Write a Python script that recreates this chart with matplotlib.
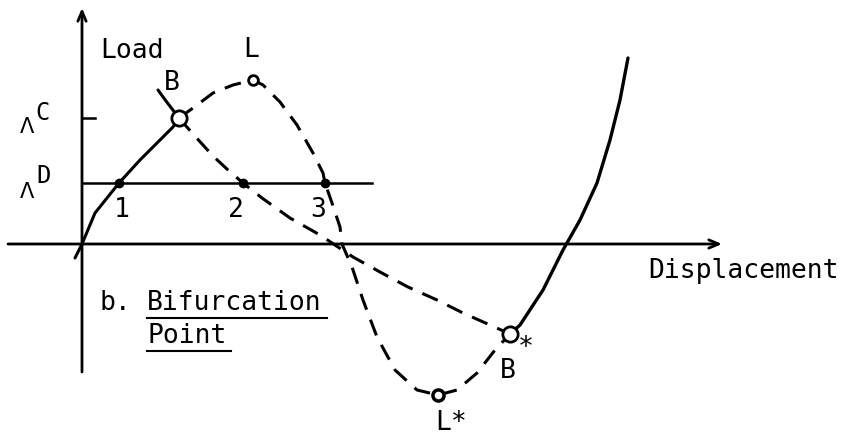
"""
Load-displacement sketch: bifurcation point B with limit points L, L*.
"""

import matplotlib
matplotlib.use("Agg")
import matplotlib.pyplot as plt

# primary (stable) branch from origin up to bifurcation point B
primary_u = [-0.07, 0.0, 0.13, 0.37, 0.58, 0.78, 0.91, 0.97]
primary_load = [-0.14, 0.0, 0.31, 0.61, 0.84, 1.04, 1.17, 1.26]

# short solid stub of the secondary branch above B
stub_u = [0.76, 0.84, 0.97]
stub_load = [1.54, 1.43, 1.26]

# unstable primary path B -> L -> L* -> B* (dashed)
main_u = [0.97, 1.11, 1.31, 1.51, 1.71, 1.81, 1.98, 2.15, 2.31, 2.41, 2.43,
          2.50, 2.58, 2.60, 2.70, 2.81, 2.95, 3.13, 3.35, 3.56, 3.75, 3.95,
          4.13, 4.28]
main_load = [1.26, 1.36, 1.51, 1.59, 1.64, 1.59, 1.42, 1.19, 0.91, 0.71, 0.61,
             0.41, 0.17, 0.0, -0.23, -0.56, -0.93, -1.26, -1.46, -1.51, -1.46,
             -1.29, -1.06, -0.90]

# secondary path B -> B* (dashed)
secondary_u = [0.97, 1.11, 1.31, 1.46, 1.61, 1.80, 2.08, 2.38, 2.71, 2.98,
               3.26, 3.55, 3.81, 4.08, 4.28]
secondary_load = [1.26, 1.10, 0.88, 0.74, 0.61, 0.46, 0.26, 0.09, -0.13, -0.28,
                  -0.43, -0.56, -0.69, -0.81, -0.90]

# stable branch after B*
post_u = [4.28, 4.38, 4.61, 4.81, 4.98, 5.15, 5.28, 5.38, 5.46]
post_load = [-0.90, -0.81, -0.46, -0.06, 0.24, 0.61, 1.04, 1.44, 1.86]

lambda_c = 1.26
lambda_d = 0.61
cross_u = [0.37, 1.61, 2.43]
cross_labels = ["1", "2", "3"]

special_u = [0.97, 1.71, 4.28, 3.56]        # B, L, B*, L*
special_load = [1.26, 1.64, -0.90, -1.51]

FONT = "DejaVu Sans Mono"

fig = plt.figure(figsize=(8.44, 4.42), dpi=100)
ax = fig.add_axes([0, 0, 1, 1])
ax.set_xlim(-0.82, 7.62)
ax.set_ylim(-1.98, 2.44)
ax.axis("off")

# axes with open arrowheads
arrow = dict(arrowstyle="->,head_length=0.7,head_width=0.3", lw=2.0,
             color="black", shrinkA=0, shrinkB=0)
ax.annotate("", xy=(0, 2.36), xytext=(0, -1.28), arrowprops=arrow)
ax.annotate("", xy=(6.40, 0), xytext=(-0.74, 0), arrowprops=arrow)

# load levels
ax.plot([0, 2.90], [lambda_d, lambda_d], color="black", lw=1.8)
ax.plot([0, 0.13], [lambda_c, lambda_c], color="black", lw=1.8)

# curves
ax.plot(primary_u, primary_load, color="black", lw=2.2, solid_capstyle="round")
ax.plot(stub_u, stub_load, color="black", lw=2.2, solid_capstyle="round")
ax.plot(post_u, post_load, color="black", lw=2.4, solid_capstyle="round")
ax.plot(main_u, main_load, color="black", lw=2.2, dashes=(5.5, 3.5))
ax.plot(secondary_u, secondary_load, color="black", lw=2.2, dashes=(5.5, 3.5))

# markers
ax.plot(cross_u, [lambda_d] * 3, "o", color="black", ms=6, zorder=4)
ax.plot(special_u[0], special_load[0], "o", mfc="white", mec="black",
        mew=2, ms=11, zorder=5)
ax.plot(special_u[1], special_load[1], "o", mfc="white", mec="black",
        mew=2, ms=7, zorder=5)
ax.plot(special_u[2], special_load[2], "o", mfc="white", mec="black",
        mew=2, ms=11, zorder=5)
ax.plot(special_u[3], special_load[3], "o", mfc="white", mec="black",
        mew=2.5, ms=8, zorder=5)

fs = 19
ax.text(0.18, 1.86, "Load", family=FONT, fontsize=fs, va="baseline")
ax.text(1.69, 1.87, "L", family=FONT, fontsize=fs, va="baseline", ha="center")
ax.text(0.90, 1.54, "B", family=FONT, fontsize=fs, va="baseline", ha="center")
for u, lab in zip(cross_u, cross_labels):
    ax.text(u + (0.03 if lab == "1" else -0.07), 0.27, lab, family=FONT,
            fontsize=fs, va="baseline", ha="center")
ax.text(5.66, -0.34, "Displacement", family=FONT, fontsize=fs, va="baseline")
ax.text(0.18, -0.66, "b.", family=FONT, fontsize=fs, va="baseline")
ax.text(0.65, -0.66, "Bifurcation", family=FONT, fontsize=fs, va="baseline")
ax.text(0.65, -0.99, "Point", family=FONT, fontsize=fs, va="baseline")
ax.plot([0.65, 2.45], [-0.74, -0.74], color="black", lw=1.5)
ax.plot([0.65, 1.49], [-1.07, -1.07], color="black", lw=1.5)
ax.text(4.26, -1.34, "B", family=FONT, fontsize=fs, va="baseline", ha="center")
ax.text(4.44, -1.04, "*", family=FONT, fontsize=fs, va="center", ha="center")
ax.text(3.69, -1.86, "L*", family=FONT, fontsize=fs, va="baseline", ha="center")

# Lambda labels
ax.text(-0.55, 1.11, "Λ", family="DejaVu Sans", fontsize=15, va="baseline",
        ha="center")
ax.text(-0.39, 1.24, "C", family=FONT, fontsize=17, va="baseline", ha="center")
ax.text(-0.55, 0.46, "Λ", family="DejaVu Sans", fontsize=15, va="baseline",
        ha="center")
ax.text(-0.38, 0.61, "D", family=FONT, fontsize=17, va="baseline", ha="center")

fig.savefig("out.png", dpi=100)
